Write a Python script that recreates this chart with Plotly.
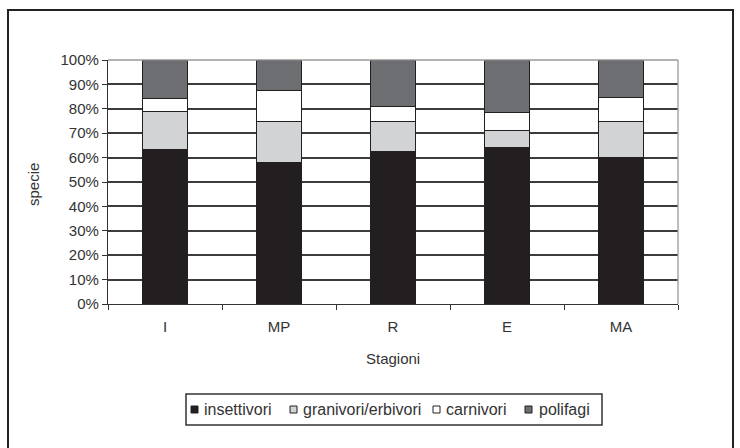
import plotly.graph_objects as go

# Seasons on the x axis
stagioni = ["I", "MP", "R", "E", "MA"]

# Share of species (%) per trophic group in each season
insettivori = [63.2, 58.1, 62.7, 64.2, 60.0]
granivori_erbivori = [15.6, 16.6, 12.0, 6.8, 14.7]
carnivori = [5.5, 12.7, 6.4, 7.6, 10.0]
polifagi = [15.7, 12.6, 18.9, 21.4, 15.3]

y_ticks = [0, 10, 20, 30, 40, 50, 60, 70, 80, 90, 100]
y_labels = ["0%", "10%", "20%", "30%", "40%", "50%", "60%", "70%", "80%", "90%", "100%"]

series = [
    ("insettivori", insettivori, "#231f20"),
    ("granivori/erbivori", granivori_erbivori, "#d1d3d4"),
    ("carnivori", carnivori, "#ffffff"),
    ("polifagi", polifagi, "#6d6e71"),
]

FONT = "Liberation Sans, Arial, sans-serif"
TXT = "#333333"
DARK = "#231f20"

# plotting-area geometry in pixels (used to place the frame and the key)
W, H = 740, 448
L, R, T, B = 108, 62, 60, 144
PW, PH = W - L - R, H - T - B


def px(x):
    return (x - L) / PW


def py(y):
    return (H - B - y) / PH


fig = go.Figure()
for name, vals, col in series:
    fig.add_trace(go.Bar(
        x=stagioni, y=vals, name=name, showlegend=False,
        marker=dict(color=col, line=dict(color=DARK, width=1)),
    ))

shapes = [
    # light border on the top and right of the plotting area
    dict(type="line", xref="paper", yref="paper", x0=0, x1=1, y0=1, y1=1,
         line=dict(color="#9a9a9a", width=1.3)),
    dict(type="line", xref="paper", yref="paper", x0=1, x1=1, y0=0, y1=1,
         line=dict(color="#9a9a9a", width=1.3)),
    # outer frame of the chart
    dict(type="rect", xref="paper", yref="paper",
         x0=px(8), x1=px(733), y0=py(470), y1=py(10),
         line=dict(color="#222222", width=2)),
    # key box
    dict(type="rect", xref="paper", yref="paper",
         x0=px(186), x1=px(602), y0=py(425), y1=py(394),
         line=dict(color="#333333", width=1.5), fillcolor="white"),
]

annotations = [
    dict(text="specie", xref="paper", yref="paper", x=px(33), y=py(185),
         textangle=-90, showarrow=False, xanchor="center", yanchor="middle",
         font=dict(family=FONT, size=15, color=TXT)),
    dict(text="Stagioni", xref="paper", yref="paper", x=px(393), y=py(358),
         showarrow=False, xanchor="center", yanchor="middle",
         font=dict(family=FONT, size=15, color=TXT)),
]

# key entries: small swatch followed by the group name
key_swatch_x = [191, 290, 433, 525]
key_text_x = [202, 301, 444, 537]
for (name, _, col), sx, tx in zip(series, key_swatch_x, key_text_x):
    shapes.append(dict(type="rect", xref="paper", yref="paper",
                       x0=px(sx), x1=px(sx + 7), y0=py(413), y1=py(406),
                       fillcolor=col, line=dict(color=DARK, width=1)))
    annotations.append(dict(text=name, xref="paper", yref="paper",
                            x=px(tx), y=py(409.5), xanchor="left", yanchor="middle",
                            showarrow=False,
                            font=dict(family=FONT, size=16, color=TXT)))

fig.update_layout(
    width=W, height=H,
    margin=dict(l=L, r=R, t=T, b=B, pad=0),
    paper_bgcolor="white", plot_bgcolor="white",
    barmode="stack", bargap=0.6,
    font=dict(family=FONT, size=15, color=TXT),
    showlegend=False,
    xaxis=dict(
        showgrid=False, showline=True, linecolor="#333333", linewidth=1.3,
        ticks="outside", ticklen=5, tickcolor="#333333", tickwidth=1.3,
        tickson="boundaries", ticklabelstandoff=9,
        tickfont=dict(family=FONT, size=15, color=TXT),
    ),
    yaxis=dict(
        range=[0, 100], tickmode="array", tickvals=y_ticks, ticktext=y_labels,
        showgrid=True, gridcolor="#3c3c3c", gridwidth=1.5, griddash="solid",
        showline=True, linecolor="#333333", linewidth=1.3,
        ticks="outside", ticklen=5, tickcolor="#333333", tickwidth=1.3,
        zeroline=False,
        tickfont=dict(family=FONT, size=15, color=TXT),
    ),
    annotations=annotations,
    shapes=shapes,
)

fig.write_html("out.html")
